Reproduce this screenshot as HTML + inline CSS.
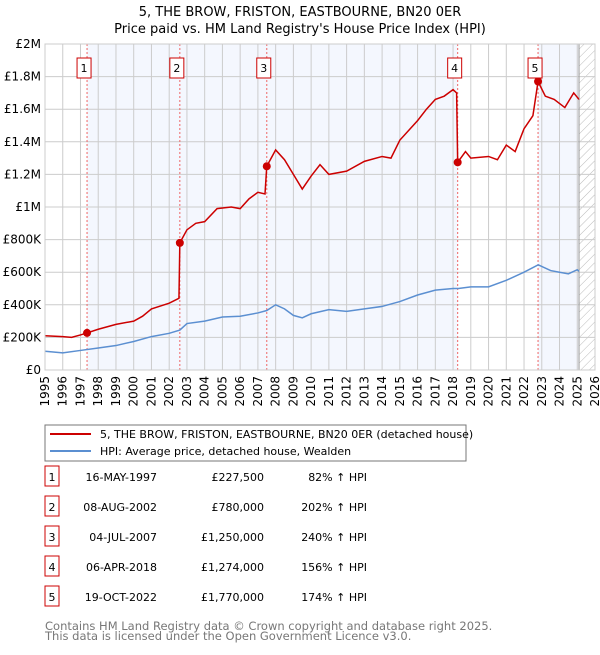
<!DOCTYPE html>
<html><head><meta charset="utf-8"><style>
body{margin:0;background:#fff;font-family:"Liberation Sans","DejaVu Sans",sans-serif;}
svg text{font-family:"DejaVu Sans","Liberation Sans",sans-serif;}
</style></head><body>
<svg id="chart" width="600" height="650" xmlns="http://www.w3.org/2000/svg">
<defs><pattern id="hatch" width="6" height="6" patternUnits="userSpaceOnUse" patternTransform="rotate(45)"><line x1="0" y1="0" x2="0" y2="6" stroke="#bbb" stroke-width="1"/></pattern></defs>
<text x="300" y="16" text-anchor="middle" font-size="13">5, THE BROW, FRISTON, EASTBOURNE, BN20 0ER</text>
<text x="300" y="33" text-anchor="middle" font-size="13">Price paid vs. HM Land Registry's House Price Index (HPI)</text>
<g id="plot"></g>
<rect x="45" y="425" width="421" height="36" fill="#fff" stroke="#777"/>
<line x1="50" y1="434" x2="91" y2="434" stroke="#cc0000" stroke-width="2"/>
<text x="100" y="438" font-size="11">5, THE BROW, FRISTON, EASTBOURNE, BN20 0ER (detached house)</text>
<line x1="50" y1="451" x2="91" y2="451" stroke="#5b8fd1" stroke-width="2"/>
<text x="100" y="455" font-size="11">HPI: Average price, detached house, Wealden</text>
<g id="table"></g>
<text x="45" y="630" font-size="11.5" fill="#777">Contains HM Land Registry data © Crown copyright and database right 2025.</text>
<text x="45" y="640" font-size="11.5" fill="#777">This data is licensed under the Open Government Licence v3.0.</text>
</svg>
<script>
const hpiYears=[1995,1996,1997,1998,1999,2000,2001,2002,2002.6,2003,2004,2005,2006,2007,2007.5,2008,2008.5,2009,2009.5,2010,2011,2012,2013,2014,2015,2016,2017,2018,2018.3,2019,2020,2021,2022,2022.8,2023.5,2024,2024.5,2025,2025.1];
const hpiValues=[115,105,120,135,150,175,205,225,245,285,300,325,330,350,365,400,375,335,320,345,370,360,375,390,420,460,490,500,500,510,510,550,600,645,610,600,590,615,605];
const propYears=[1995,1996,1996.5,1997,1997.37,1998,1999,2000,2000.5,2001,2002,2002.55,2002.6,2003,2003.5,2004,2004.7,2005.5,2006,2006.5,2007,2007.4,2007.5,2008,2008.5,2009,2009.5,2010,2010.5,2011,2012,2013,2014,2014.5,2015,2016,2016.5,2017,2017.5,2018,2018.2,2018.26,2018.7,2019,2020,2020.5,2021,2021.5,2022,2022.5,2022.79,2023.2,2023.7,2024.3,2024.8,2025.1];
const propValues=[210,205,200,215,227.5,250,280,300,330,375,410,440,780,860,900,910,990,1000,990,1050,1090,1080,1250,1350,1290,1200,1110,1190,1260,1200,1220,1280,1310,1300,1410,1530,1600,1660,1680,1720,1700,1274,1340,1300,1310,1290,1380,1340,1480,1560,1770,1680,1660,1610,1700,1660];
const saleLabels=["1","2","3","4","5"];
const saleYears=[1997.37,2002.6,2007.5,2018.26,2022.79];
const saleValues=[227.5,780,1250,1274,1770];
const saleDates=["16-MAY-1997","08-AUG-2002","04-JUL-2007","06-APR-2018","19-OCT-2022"];
const salePrices=["£227,500","£780,000","£1,250,000","£1,274,000","£1,770,000"];
const saleHpi=["82% ↑ HPI","202% ↑ HPI","240% ↑ HPI","156% ↑ HPI","174% ↑ HPI"];
const yTicks=[0,200,400,600,800,1000,1200,1400,1600,1800,2000];
const yTickLabels=["£0","£200K","£400K","£600K","£800K","£1M","£1.2M","£1.4M","£1.6M","£1.8M","£2M"];
const dataEnd=2025.1;

const X0=45,X1=595,Y0=370,Y1=44;
const x=v=>X0+(v-1995)/31*(X1-X0);
const y=v=>Y0-v/2000*(Y0-Y1);
const NS="http://www.w3.org/2000/svg";
const plot=document.getElementById('plot');
function mk(tag,attrs,parent){const e=document.createElementNS(NS,tag);for(const k in attrs)e.setAttribute(k,attrs[k]);(parent||plot).appendChild(e);return e;}

let bg=mk('rect',{x:X0,y:Y1,width:X1-X0,height:Y0-Y1,fill:'#fff'});


let s1=mk('rect',{x:x(saleYears[0]),y:Y1,width:x(saleYears[3])-x(saleYears[0]),height:Y0-Y1,fill:'#f4f7fe'});


let s2=mk('rect',{x:x(saleYears[4]),y:Y1,width:x(dataEnd)-x(saleYears[4]),height:Y0-Y1,fill:'#f4f7fe'});


let ht=mk('rect',{x:x(dataEnd),y:Y1,width:X1-x(dataEnd),height:Y0-Y1,fill:'url(#hatch)'});


for(let yr=1995;yr<=2026;yr++){
  let g=mk('line',{x1:x(yr),x2:x(yr),y1:Y1,y2:Y0,stroke:'#ccc','stroke-width':1});
  
  
  let t=mk('text',{x:0,y:0,'font-size':12,'text-anchor':'end',transform:`translate(${x(yr)+4},376) rotate(-90)`});
  t.textContent=yr;
  
  
}
yTicks.forEach((v,i)=>{
  let g=mk('line',{x1:X0,x2:X1,y1:y(v),y2:y(v),stroke:'#ccc','stroke-width':1});
  
  
  let t=mk('text',{x:X0-4,y:y(v)+4,'font-size':12,'text-anchor':'end'});
  t.textContent=yTickLabels[i];
  
  
});
let ed=mk('line',{x1:x(dataEnd),x2:x(dataEnd),y1:Y1,y2:Y0,stroke:'#999','stroke-width':1});


saleYears.forEach((yr,i)=>{
  let l=mk('line',{x1:x(yr),x2:x(yr),y1:Y1,y2:Y0,stroke:'#e66','stroke-width':1,'stroke-dasharray':'2,2'});
  
  
});
let hp=mk('polyline',{points:hpiYears.map((v,i)=>x(v)+','+y(hpiValues[i])).join(' '),fill:'none',stroke:'#5b8fd1','stroke-width':1.5});


let pp=mk('polyline',{points:propYears.map((v,i)=>x(v)+','+y(propValues[i])).join(' '),fill:'none',stroke:'#cc0000','stroke-width':1.5});


saleYears.forEach((yr,i)=>{
  let c=mk('circle',{cx:x(yr),cy:y(saleValues[i]),r:4,fill:'#cc0000'});
  
  
  let b=mk('rect',{x:x(yr)-10,y:58,width:14,height:20,fill:'#fff',stroke:'#cc0000'});
  
  
  let t=mk('text',{x:x(yr)-3,y:72,'font-size':11,'text-anchor':'middle'});
  t.textContent=saleLabels[i];
  
  
});
let fr=mk('rect',{x:X0,y:Y1,width:X1-X0,height:Y0-Y1,fill:'none',stroke:'#ccc'});



const tbl=document.getElementById('table');
saleLabels.forEach((lab,i)=>{
  const cy=483+i*30;
  let b=mk('rect',{x:45,y:cy-17,width:14,height:20,fill:'#fff',stroke:'#cc0000'},tbl);
  
  
  const cells=[[52,lab,'middle','table-row-number'],[157,saleDates[i],'end','table-row-date'],[264,salePrices[i],'end','table-row-price'],[367,saleHpi[i],'end','table-row-hpi']];
  cells.forEach(c=>{
    let t=mk('text',{x:c[0],y:cy-2,'font-size':11,'text-anchor':c[2]},tbl);
    t.textContent=c[1];
    
    
  });
});
</script>
</body></html>
